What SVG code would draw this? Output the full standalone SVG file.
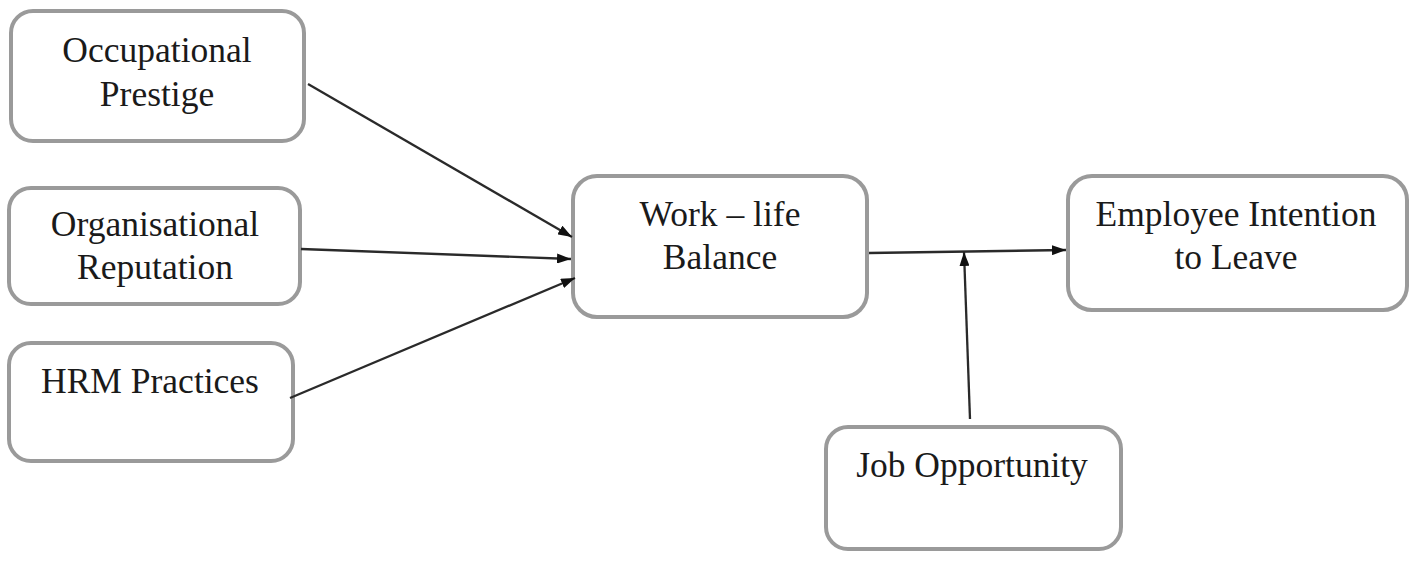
<svg xmlns="http://www.w3.org/2000/svg" width="1418" height="561" viewBox="0 0 1418 561">
<style>
.box{fill:#fff;stroke:#9a9a9a;stroke-width:4}
.lbl{font-family:"Liberation Serif","Times New Roman",serif;font-size:35.5px;fill:#1a1a1a;text-anchor:middle}
.edge{stroke:#2a2a2a;stroke-width:2.3;fill:none;marker-end:url(#ah)}
</style>
<defs>
<marker id="ah" viewBox="0 0 14 10" refX="14" refY="5" markerWidth="14" markerHeight="10" markerUnits="userSpaceOnUse" orient="auto">
<path d="M0,0 L14,5 L0,10 z" fill="#111"/>
</marker>
</defs>
<rect width="1418" height="561" fill="#fff"/>
<g id="n-occupational">
<rect class="box" x="11" y="11" width="293" height="130" rx="22"/>
<text class="lbl" x="157" y="62">Occupational</text>
<text class="lbl" x="157" y="106">Prestige</text>
</g>
<g id="n-organisational">
<rect class="box" x="9" y="188" width="291" height="116" rx="22"/>
<text class="lbl" x="155" y="236">Organisational</text>
<text class="lbl" x="155" y="279">Reputation</text>
</g>
<g id="n-hrm">
<rect class="box" x="9" y="343" width="284" height="118" rx="22"/>
<text class="lbl" x="150" y="393">HRM Practices</text>
</g>
<g id="n-wlb">
<rect class="box" x="573" y="176" width="294" height="141" rx="24"/>
<text class="lbl" x="720" y="226">Work – life</text>
<text class="lbl" x="720" y="269">Balance</text>
</g>
<g id="n-eil">
<rect class="box" x="1068" y="176" width="339" height="134" rx="24"/>
<text class="lbl" x="1236" y="226">Employee Intention</text>
<text class="lbl" x="1236" y="269">to Leave</text>
</g>
<g id="n-job">
<rect class="box" x="826" y="427" width="295" height="122" rx="22"/>
<text class="lbl" x="972" y="477">Job Opportunity</text>
</g>
<g id="connectors">
<line class="edge" x1="308" y1="84" x2="572" y2="237"/>
<line class="edge" x1="301" y1="249" x2="571" y2="259"/>
<line class="edge" x1="290" y1="398" x2="575" y2="278"/>
<line class="edge" x1="869" y1="253" x2="1066" y2="250"/>
<line class="edge" x1="970" y1="419" x2="964" y2="252"/>
</g>
</svg>
